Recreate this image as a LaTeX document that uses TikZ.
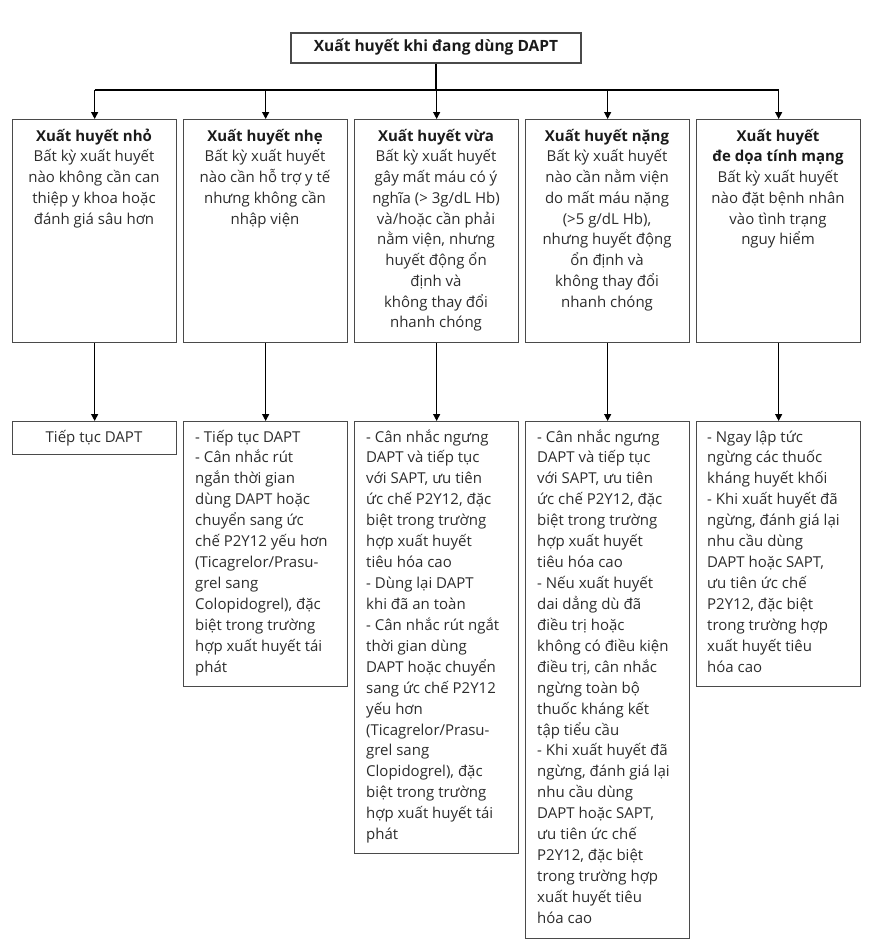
\documentclass[tikz,border=0pt]{standalone}
\usepackage{fontspec}
\setmainfont{Open Sans}
\usetikzlibrary{arrows.meta}
\definecolor{txt}{HTML}{2C2C2C}
\definecolor{ttl}{HTML}{1A1A1A}
\definecolor{brd}{HTML}{4A4A4A}
\newcommand{\mycbox}[2]{\parbox[t]{#1}{\leavevmode\centering\fontsize{15}{20.75}\selectfont #2}}
\newcommand{\mylbox}[1]{\parbox[t]{160pt}{\leavevmode\raggedright\fontsize{15}{20.93}\selectfont #1}}
\newcommand{\ttl}[1]{{\color{ttl}\bfseries #1}}
\begin{document}
\begin{tikzpicture}[x=1pt,y=1pt,
  box/.style={draw=brd, line width=1.3pt, rectangle, inner sep=0pt, anchor=north west, minimum width=164pt},
  arr/.style={draw=black, line width=1.3pt, -{Triangle[length=7pt,width=7pt]}},
  ln/.style={draw=black, line width=1.3pt},
  ctxt/.style={inner sep=0pt, anchor=base, text=txt},
  ltxt/.style={inner sep=0pt, anchor=base west, text=txt}]
\useasboundingbox (0,0) rectangle (875,-950);

% top
\node[draw=brd, line width=1.3pt, minimum width=290pt, minimum height=30pt, inner sep=0pt,
      text height=11pt, text depth=3pt, text=ttl, font=\fontsize{15.5}{18}\selectfont\bfseries]
      (top) at (436,-48) {Xuất huyết khi đang dùng DAPT};

% level 2 boxes
\node[box, minimum height=223pt] (b1) at (12,-119) {};
\node[box, minimum height=223pt] (b2) at (183,-119) {};
\node[box, minimum height=223pt] (b3) at (354,-119) {};
\node[box, minimum height=223pt] (b4) at (525,-119) {};
\node[box, minimum height=223pt] (b5) at (696,-119) {};

\node[ctxt] (t1) at (94,-141) {\mycbox{160pt}{\ttl{Xuất huyết nhỏ}\\Bất kỳ xuất huyết\\nào không cần can\\thiệp y khoa hoặc\\đánh giá sâu hơn}};
\node[ctxt] (t2) at (265,-141) {\mycbox{160pt}{\ttl{Xuất huyết nhẹ}\\Bất kỳ xuất huyết\\nào cần hỗ trợ y tế\\nhưng không cần\\nhập viện}};
\node[ctxt] (t3) at (436,-141) {\mycbox{160pt}{\ttl{Xuất huyết vừa}\\Bất kỳ xuất huyết\\gây mất máu có ý\\nghĩa (> 3g/dL Hb)\\và/hoặc cần phải\\nằm viện, nhưng\\huyết động ổn\\định và\\không thay đổi\\nhanh chóng}};
\node[ctxt] (t4) at (607,-141) {\mycbox{160pt}{\ttl{Xuất huyết nặng}\\Bất kỳ xuất huyết\\nào cần nằm viện\\do mất máu nặng\\(>5 g/dL Hb),\\nhưng huyết động\\ổn định và\\không thay đổi\\nhanh chóng}};
\node[ctxt] (t5) at (778,-141) {\mycbox{160pt}{\ttl{Xuất huyết}\\\ttl{đe dọa tính mạng}\\Bất kỳ xuất huyết\\nào đặt bệnh nhân\\vào tình trạng\\nguy hiểm}};

% level 3 boxes
\node[box, minimum height=33pt] (c1) at (12,-421) {};
\node[box, minimum height=265pt] (c2) at (183,-421) {};
\node[box, minimum height=432pt] (c3) at (354,-421) {};
\node[box, minimum height=517pt] (c4) at (525,-421) {};
\node[box, minimum height=265pt] (c5) at (696,-421) {};

\node[ctxt] (u1) at (94,-442) {\mycbox{160pt}{Tiếp tục DAPT}};
\node[ltxt] (u2) at (195,-442) {\mylbox{- Tiếp tục DAPT\\- Cân nhắc rút\\ngắn thời gian\\dùng DAPT hoặc\\chuyển sang ức\\chế P2Y12 yếu hơn\\(Ticagrelor/Prasu-\\grel sang\\Colopidogrel), đặc\\biệt trong trường\\hợp xuất huyết tái\\phát}};
\node[ltxt] (u3) at (366,-442) {\mylbox{- Cân nhắc ngưng\\DAPT và tiếp tục\\với SAPT, ưu tiên\\ức chế P2Y12, đặc\\biệt trong trường\\hợp xuất huyết\\tiêu hóa cao\\- Dùng lại DAPT\\khi đã an toàn\\- Cân nhắc rút ngắt\\thời gian dùng\\DAPT hoặc chuyển\\sang ức chế P2Y12\\yếu hơn\\(Ticagrelor/Prasu-\\grel sang\\Clopidogrel), đặc\\biệt trong trường\\hợp xuất huyết tái\\phát}};
\node[ltxt] (u4) at (537,-442) {\mylbox{- Cân nhắc ngưng\\DAPT và tiếp tục\\với SAPT, ưu tiên\\ức chế P2Y12, đặc\\biệt trong trường\\hợp xuất huyết\\tiêu hóa cao\\- Nếu xuất huyết\\dai dẳng dù đã\\điều trị hoặc\\không có điều kiện\\điều trị, cân nhắc\\ngừng toàn bộ\\thuốc kháng kết\\tập tiểu cầu\\- Khi xuất huyết đã\\ngừng, đánh giá lại\\nhu cầu dùng\\DAPT hoặc SAPT,\\ưu tiên ức chế\\P2Y12, đặc biệt\\trong trường hợp\\xuất huyết tiêu\\hóa cao}};
\node[ltxt] (u5) at (707,-442) {\mylbox{- Ngay lập tức\\ngừng các thuốc\\kháng huyết khối\\- Khi xuất huyết đã\\ngừng, đánh giá lại\\nhu cầu dùng\\DAPT hoặc SAPT,\\ưu tiên ức chế\\P2Y12, đặc biệt\\trong trường hợp\\xuất huyết tiêu\\hóa cao}};

% connectors
\coordinate (bar) at (436,-90);
\draw[ln] (top.south) -- (bar);
\draw[ln] (b1.north |- bar) -- (b5.north |- bar);
\foreach \i in {1,...,5}{
  \draw[arr] (b\i.north |- bar) -- (b\i.north);
  \draw[arr] (b\i.south) -- (c\i.north);
}
\end{tikzpicture}
\end{document}
